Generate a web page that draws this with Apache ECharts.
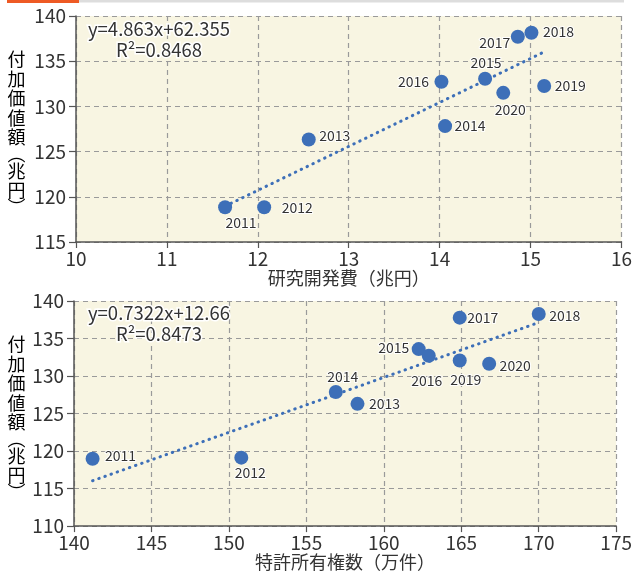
<!DOCTYPE html>
<html>
<head>
<meta charset="utf-8">
<style>
  html, body { margin: 0; padding: 0; background: #ffffff; }
  #chart { width: 635px; height: 572px; }
</style>
<script src="https://cdn.jsdelivr.net/npm/echarts@6/dist/echarts.min.js"></script>
</head>
<body>
<div id="chart"></div>
<script>
// Years of observation
const years = [2011, 2012, 2013, 2014, 2015, 2016, 2017, 2018, 2019, 2020];
// R&D expenditure (trillion yen)
const rdSpend = [11.64, 12.07, 12.56, 14.06, 14.50, 14.02, 14.86, 15.01, 15.15, 14.70];
// Value added (trillion yen), plotted against R&D expenditure
const valueAddedVsRd = [118.85, 118.85, 126.34, 127.82, 133.06, 132.73, 137.71, 138.15, 132.25, 131.50];
// Patents held (10 thousand)
const patentsHeld = [141.2, 150.8, 158.3, 156.9, 162.25, 162.9, 164.9, 170.0, 164.9, 166.8];
// Value added (trillion yen), plotted against patents held
const valueAddedVsPatents = [118.98, 119.12, 126.29, 127.88, 133.59, 132.70, 137.78, 138.27, 132.08, 131.64];

// Linear fits
const fitRd = { slope: 4.863, intercept: 62.355, r2: '0.8468' };
const fitPatents = { slope: 0.7322, intercept: 12.66, r2: '0.8473' };

// Axis ranges and tick steps
const xTicksRd = { min: 10, max: 16, interval: 1 };
const yTicksRd = { min: 115, max: 140, interval: 5 };
const xTicksPatents = { min: 140, max: 175, interval: 5 };
const yTicksPatents = { min: 110, max: 140, interval: 5 };

// Label placement per year (offset of label centre from the marker centre)
const labelOffsetRd = {
  2011: [16, 15], 2012: [33, 0], 2013: [26, -4], 2014: [25, 0], 2015: [1, -16],
  2016: [-28, 0], 2017: [-23, 6], 2018: [27, -1], 2019: [26, 0], 2020: [7, 17]
};
const labelOffsetPatents = {
  2011: [28, -3], 2012: [9, 15], 2013: [27, 0], 2014: [7, -15], 2015: [-25, -1],
  2016: [-2, 25], 2017: [23, 0], 2018: [26, 2], 2019: [6, 19], 2020: [26, 2]
};

const FONT = '"Noto Sans CJK JP", "Noto Sans", sans-serif';
const TEXT = '#333333';
const BLUE = '#3d6fb8';
const GRID_LINE = { show: true, lineStyle: { color: '#9a9a9a', type: [5, 4], width: 1.2 } };

function scatterData(xs, ys, offsets) {
  return xs.map((x, i) => ({
    value: [x, ys[i]],
    name: String(years[i]),
    label: { offset: offsets[years[i]] }
  }));
}

function trendData(xs, fit) {
  const lo = Math.min(...xs), hi = Math.max(...xs);
  return [[lo, fit.slope * lo + fit.intercept], [hi, fit.slope * hi + fit.intercept]];
}

function xAxis(gridIndex, ticks, name, nameGap) {
  return {
    type: 'value', gridIndex, min: ticks.min, max: ticks.max, interval: ticks.interval,
    name, nameLocation: 'middle', nameGap,
    nameTextStyle: { fontFamily: FONT, fontSize: 18, color: TEXT },
    axisLine: { show: true, onZero: false, lineStyle: { color: '#555', width: 1.5 } },
    axisTick: { show: true, length: 6, lineStyle: { color: '#555', width: 1.2 } },
    axisLabel: { fontFamily: FONT, fontSize: 19, color: TEXT, margin: 7 },
    splitLine: GRID_LINE
  };
}
function yAxis(gridIndex, ticks) {
  return {
    type: 'value', gridIndex, min: ticks.min, max: ticks.max, interval: ticks.interval,
    axisLine: { show: true, onZero: false, lineStyle: { color: '#555', width: 1.5 } },
    axisTick: { show: true, length: 7, lineStyle: { color: '#555', width: 1.2 } },
    axisLabel: { fontFamily: FONT, fontSize: 19, color: TEXT, margin: 10 },
    splitLine: GRID_LINE
  };
}

const pointLabel = {
  show: true, position: 'inside', align: 'center', verticalAlign: 'middle',
  formatter: p => p.name, fontFamily: FONT, fontSize: 14, color: TEXT,
  textBorderColor: '#ffffff', textBorderWidth: 2
};
const trendStyle = { color: BLUE, width: 3, type: [0.5, 6], cap: 'round', opacity: 1 };

// Stacked vertical title for the value-added axis
const vTitleRich = {
  c: { fontFamily: FONT, fontSize: 18, color: TEXT, lineHeight: 19.5 },
  p: { fontFamily: FONT, fontSize: 18, color: TEXT, lineHeight: 14 }
};
const vTitleText = '{c|付}\n{c|加}\n{c|価}\n{c|値}\n{c|額}\n{p|︵}\n{c|兆}\n{c|円}\n{p|︶}';

function equationText(fit, x, y) {
  return {
    type: 'text', x, y, z: 50,
    style: {
      text: 'y=' + fit.slope + 'x+' + fit.intercept + '\nR²=' + fit.r2,
      fontFamily: FONT, fontSize: 18.5, fill: TEXT, lineHeight: 20.5, align: 'center',
      stroke: '#ffffff', lineWidth: 3
    }
  };
}

const chart = echarts.init(document.getElementById('chart'), null, { renderer: 'canvas' });
chart.setOption({
  animation: false,
  backgroundColor: '#ffffff',
  grid: [
    { left: 76, right: 11, top: 16, height: 226, show: true, backgroundColor: '#f8f5e2', borderWidth: 0 },
    { left: 74, right: 11, top: 301, height: 226, show: true, backgroundColor: '#f8f5e2', borderWidth: 0 }
  ],
  xAxis: [
    xAxis(0, xTicksRd, '研究開発費（兆円）', 22),
    xAxis(1, xTicksPatents, '特許所有権数（万件）', 24)
  ],
  yAxis: [yAxis(0, yTicksRd), yAxis(1, yTicksPatents)],
  graphic: [
    { type: 'rect', shape: { x: 7, y: 0, width: 72, height: 3 }, style: { fill: '#ee5a24' } },
    { type: 'rect', shape: { x: 79, y: 0, width: 545, height: 2.5 }, style: { fill: '#dddddd' } },
    {
      type: 'text', x: 16.5, y: 132,
      style: { text: vTitleText, rich: vTitleRich, align: 'center', verticalAlign: 'middle' }
    },
    {
      type: 'text', x: 16.5, y: 417,
      style: { text: vTitleText, rich: vTitleRich, align: 'center', verticalAlign: 'middle' }
    },
    equationText(fitRd, 159, 19),
    equationText(fitPatents, 159, 303)
  ],
  series: [
    {
      type: 'line', xAxisIndex: 0, yAxisIndex: 0, data: trendData(rdSpend, fitRd),
      symbol: 'none', lineStyle: trendStyle, z: 2, silent: true
    },
    {
      type: 'scatter', xAxisIndex: 0, yAxisIndex: 0, data: scatterData(rdSpend, valueAddedVsRd, labelOffsetRd),
      symbolSize: 14, itemStyle: { color: BLUE, opacity: 1 }, label: pointLabel, z: 3
    },
    {
      type: 'line', xAxisIndex: 1, yAxisIndex: 1, data: trendData(patentsHeld, fitPatents),
      symbol: 'none', lineStyle: trendStyle, z: 2, silent: true
    },
    {
      type: 'scatter', xAxisIndex: 1, yAxisIndex: 1, data: scatterData(patentsHeld, valueAddedVsPatents, labelOffsetPatents),
      symbolSize: 14, itemStyle: { color: BLUE, opacity: 1 }, label: pointLabel, z: 3
    }
  ]
});
</script>
</body>
</html>
